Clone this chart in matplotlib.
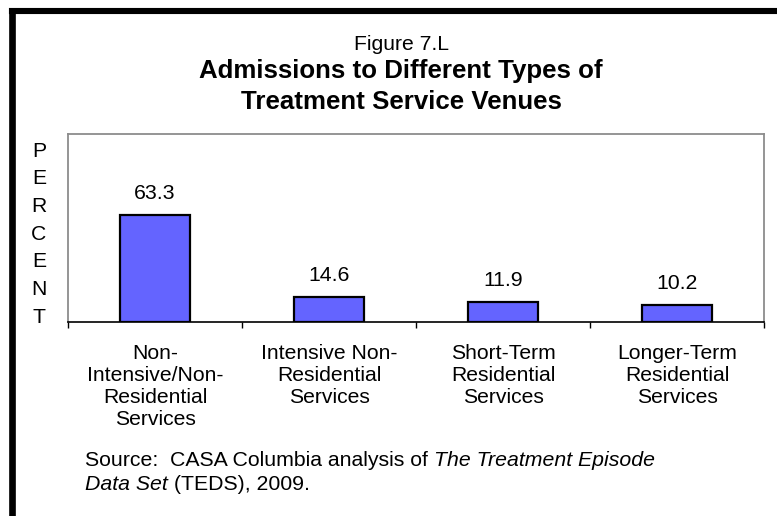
import matplotlib
matplotlib.use("Agg")
import matplotlib.pyplot as plt
from matplotlib.lines import Line2D
from matplotlib.transforms import offset_copy

plt.rcParams['font.family'] = ['Liberation Sans', 'DejaVu Sans']

categories = ["Non-\nIntensive/Non-\nResidential\nServices",
              "Intensive Non-\nResidential\nServices",
              "Short-Term\nResidential\nServices",
              "Longer-Term\nResidential\nServices"]
values = [63.3, 14.6, 11.9, 10.2]
value_labels = ["63.3", "14.6", "11.9", "10.2"]

W, H = 777, 516
fig = plt.figure(figsize=(W / 100, H / 100), dpi=100)

# plot area in pixel coordinates
left, right, top, bottom = 68, 764, 134, 322
ax = fig.add_axes([left / W, 1 - bottom / H, (right - left) / W, (bottom - top) / H])

x = list(range(len(values)))
ax.bar(x, values, width=0.4, color="#6464FF", edgecolor="black", linewidth=1.6, zorder=3)
lab_tr = offset_copy(ax.transData, fig=fig, x=0, y=12, units="dots")
for xi, v, lab in zip(x, values, value_labels):
    ax.text(xi, v, lab, transform=lab_tr, ha="center", va="bottom", fontsize=15.3)

ax.set_xlim(-0.5, len(values) - 0.5)
ax.set_ylim(0, 111)
ax.set_yticks([])
ax.set_xticks([i - 0.5 for i in range(len(values) + 1)])
ax.set_xticklabels([])
ax.tick_params(axis="x", length=4.5, width=1, color="black", direction="out")
for s in ("top", "left", "right"):
    ax.spines[s].set_color("#8c8c8c")
    ax.spines[s].set_linewidth(1.3)
ax.spines["bottom"].set_color("black")
ax.spines["bottom"].set_linewidth(1.2)

cat_tr = offset_copy(ax.get_xaxis_transform(), fig=fig, x=0, y=-22, units="dots")
for xi, lab in zip(x, categories):
    ax.text(xi, 0, lab, transform=cat_tr, ha="center", va="top",
            fontsize=15.2, linespacing=1.21)

# vertically stacked axis label
for i, ch in enumerate("PERCENT"):
    fig.text(39 / W, 1 - (151 + i * 27.7) / H, ch, ha="center", va="center", fontsize=15.2)

# titles
cx = 401 / W
fig.text(cx, 1 - 45 / H, "Figure 7.L", ha="center", va="center", fontsize=15.2)
fig.text(cx, 1 - 71 / H, "Admissions to Different Types of", ha="center", va="center",
         fontsize=18.6, fontweight="bold")
fig.text(cx, 1 - 102 / H, "Treatment Service Venues", ha="center", va="center",
         fontsize=18.6, fontweight="bold")

# source note, mixing upright and italic runs
src_x, y1, y2, fs = 85, 460, 485, 15.3
t = fig.text(src_x / W, 1 - y1 / H, "Source:  CASA Columbia analysis of ", ha="left",
             va="center", fontsize=fs)
fig.canvas.draw()
bb = t.get_window_extent()
fig.text(bb.x1 / W, 1 - y1 / H, "The Treatment Episode", ha="left", va="center",
         fontsize=fs, style="italic")
t2 = fig.text(src_x / W, 1 - y2 / H, "Data Set", ha="left", va="center", fontsize=fs,
              style="italic")
fig.canvas.draw()
bb2 = t2.get_window_extent()
fig.text(bb2.x1 / W, 1 - y2 / H, " (TEDS), 2009.", ha="left", va="center", fontsize=fs)

# frame lines along the top and left edges
fig.add_artist(Line2D([12 / W, 12 / W], [0, 1 - 11 / H], color="black", linewidth=4.8,
                      solid_capstyle="projecting", transform=fig.transFigure))
fig.add_artist(Line2D([12 / W, 1], [1 - 11 / H, 1 - 11 / H], color="black", linewidth=4.4,
                      solid_capstyle="projecting", transform=fig.transFigure))

fig.savefig("out.png", dpi=100)
